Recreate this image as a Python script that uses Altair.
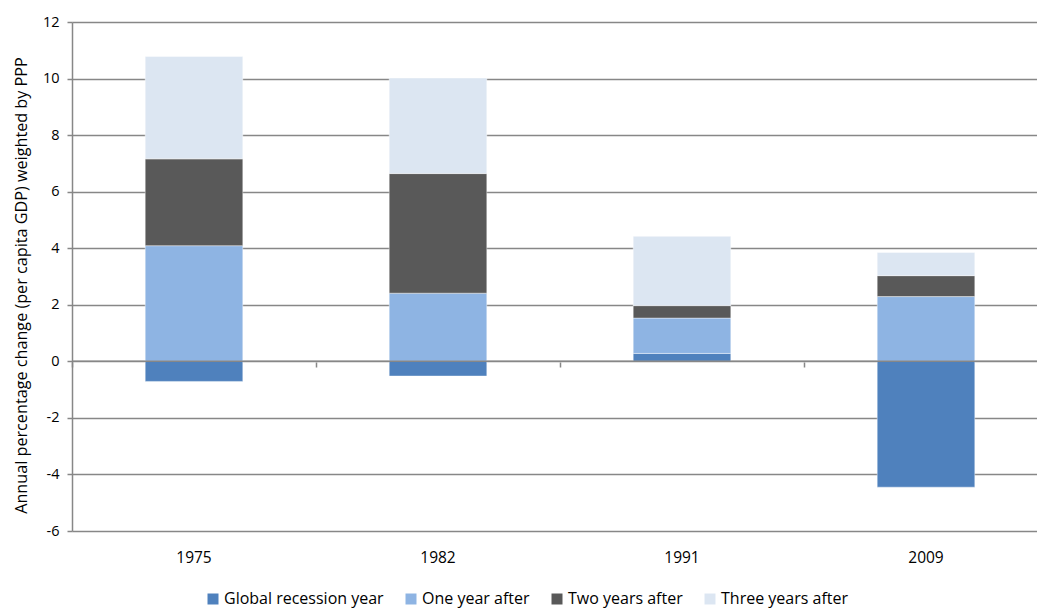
import altair as alt
import pandas as pd

# Categories and series
years = ["1975", "1982", "1991", "2009"]
series = ["Global recession year", "One year after", "Two years after", "Three years after"]

# Annual % change in per-capita GDP (PPP weighted)
recession = [-0.71, -0.52, 0.28, -4.45]
one_after = [4.09, 2.41, 1.25, 2.29]
two_after = [3.07, 4.23, 0.44, 0.74]
three_after = [3.62, 3.38, 2.45, 0.82]

colors = ["#4F81BD", "#8EB4E3", "#595959", "#DCE6F2"]
y_ticks = [-6, -4, -2, 0, 2, 4, 6, 8, 10, 12]

rows = []
for i, yr in enumerate(years):
    for k, (name, vals) in enumerate(zip(series, [recession, one_after, two_after, three_after])):
        rows.append({"year": yr, "series": name, "order": k, "value": vals[i]})
df = pd.DataFrame(rows)

FONT = "Open Sans"
GRID = "#878787"

x_scale = alt.Scale(domain=years, range=[0, 976], paddingInner=0.6, paddingOuter=0.3)
y_scale = alt.Scale(domain=[-6, 12], nice=False, zero=False)

bars = alt.Chart(df).mark_bar(stroke="white", strokeWidth=0.6, strokeOpacity=0.7).encode(
    x=alt.X(
        "year:N",
        scale=x_scale,
        axis=alt.Axis(
            title=None, orient="bottom", domain=False, ticks=False, tickSize=0,
            labelPadding=19, labelAngle=0, labelFontSize=15.5, labelFont=FONT,
            labelColor="black", labelBaseline="top", grid=False,
        ),
    ),
    y=alt.Y(
        "value:Q",
        stack="zero",
        scale=y_scale,
        axis=alt.Axis(
            values=y_ticks,
            labelExpr="'' + datum.value",
            title="Annual percentage change (per capita GDP) weighted by PPP",
            titleFont=FONT, titleFontSize=16.2, titleFontWeight="normal", titleColor="black",
            titleX=-51, titleY=263, titleAngle=270, titleAlign="center", titleBaseline="middle",
            labelFont=FONT, labelFontSize=14.5, labelColor="black", labelPadding=8,
            domainColor=GRID, domainWidth=1.5,
            tickColor=GRID, tickWidth=1.5, tickSize=5,
            grid=True, gridColor=GRID, gridWidth=1.5,
        ),
    ),
    color=alt.Color(
        "series:N",
        scale=alt.Scale(domain=series, range=colors),
        legend=alt.Legend(
            title=None, orient="none", legendX=133, legendY=569, direction="horizontal",
            symbolType="square", symbolSize=121, symbolStrokeWidth=0,
            labelFont=FONT, labelFontSize=16, labelColor="black", labelOffset=3,
            labelLimit=400, columnPadding=19, padding=0,
        ),
    ),
    order=alt.Order("order:Q", sort="ascending"),
)

# Horizontal category axis line at zero, drawn over the bars
zero_line = alt.Chart(pd.DataFrame({"v": [0]})).mark_rule(color=GRID, strokeWidth=1.5).encode(
    x=alt.value(0),
    x2=alt.value(965),
    y=alt.Y("v:Q", scale=y_scale, axis=None),
)

# Tick marks between categories on the zero line
cat_ticks = alt.Chart(pd.DataFrame({"year": years})).mark_point(opacity=0).encode(
    x=alt.X(
        "year:N",
        scale=x_scale,
        axis=alt.Axis(
            orient="top", offset=-345, labels=False, domain=False, ticks=True,
            tickSize=5, tickColor=GRID, tickWidth=1.5, bandPosition=0, tickOffset=-73,
            title=None, grid=False,
        ),
    ),
    y=alt.value(0),
)

chart = (
    alt.layer(bars, zero_line, cat_ticks)
    .resolve_axis(x="independent", y="independent")
    .properties(
        width=965,
        height=509,
        autosize=alt.AutoSizeParams(type="none"),
        padding={"left": 72, "top": 22, "right": 0, "bottom": 77},
        background="white",
    )
    .configure_view(stroke=None)
)

chart.save("out.html", embed_options={"renderer": "svg", "actions": False})
